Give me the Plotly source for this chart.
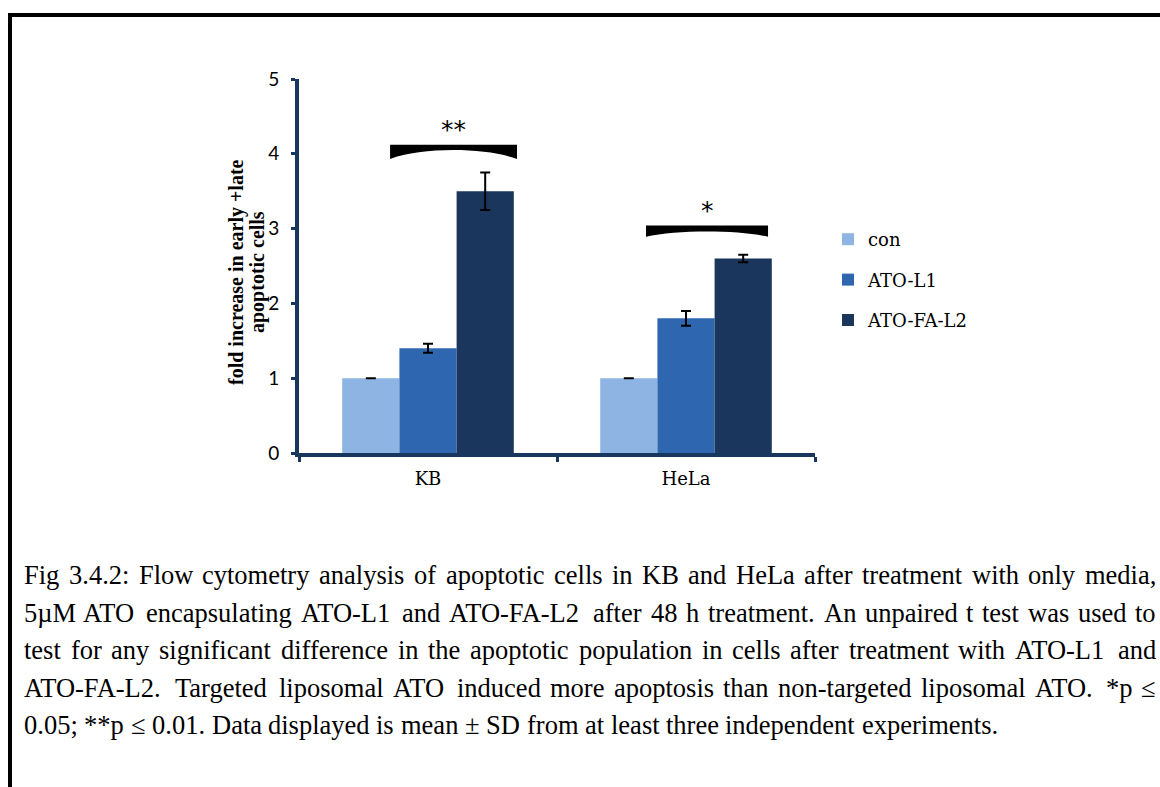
import plotly.graph_objects as go

# ---- data ----
cell_lines = ["KB", "HeLa"]
groups = ["con", "ATO-L1", "ATO-FA-L2"]
means = {
    "con": [1.0, 1.0],
    "ATO-L1": [1.4, 1.8],
    "ATO-FA-L2": [3.5, 2.6],
}
sds = {
    "con": [0.0, 0.0],
    "ATO-L1": [0.06, 0.10],
    "ATO-FA-L2": [0.25, 0.05],
}
colors = {"con": "#8EB4E3", "ATO-L1": "#2E67B0", "ATO-FA-L2": "#1B365D"}
y_ticks = [0, 1, 2, 3, 4, 5]
y_title_lines = ["fold increase in early +late", "apoptotic cells"]

# significance brackets: (x_left, x_right, y_top, y_end_bottom, y_mid_bottom, label)
brackets = [
    (-0.147, 0.345, 4.12, 3.93, 4.05, "**"),
    (0.845, 1.318, 3.04, 2.89, 2.96, "*"),
]

caption_lines = [
    "Fig 3.4.2: Flow cytometry analysis of apoptotic cells in KB and HeLa after treatment with only media,",
    "5µM ATO encapsulating ATO-L1 and ATO-FA-L2 after 48 h treatment. An unpaired t test was used to",
    "test for any significant difference in the apoptotic population in cells after treatment with ATO-L1 and",
    "ATO-FA-L2. Targeted liposomal ATO induced more apoptosis than non-targeted liposomal ATO. *p ≤",
    "0.05; **p ≤ 0.01. Data displayed is mean ± SD from at least three independent experiments.",
]

# ---- layout geometry (pixels) ----
W, H = 1160, 787
PL, PR, PT, PB = 299, 815, 79, 453
NAVY = "#17375E"
CAP_SIZE = 26.5
CAP_LEFT, CAP_RIGHT = 23, 1155
CAP_BASE0, CAP_PITCH = 583, 37.5

# Times advance widths (1/1000 em) used to justify the caption lines
TIMES_W = {
    " ": 250, "!": 333, "*": 500, "+": 564, ",": 250, "-": 333, ".": 250,
    "/": 278, ":": 278, ";": 278, "?": 444, "(": 333, ")": 333,
    "A": 722, "B": 667, "C": 667, "D": 722, "E": 611, "F": 556, "G": 722,
    "H": 722, "I": 333, "J": 389, "K": 722, "L": 611, "M": 889, "N": 722,
    "O": 722, "P": 556, "Q": 722, "R": 667, "S": 556, "T": 611, "U": 722,
    "V": 722, "W": 944, "X": 722, "Y": 722, "Z": 611,
    "a": 444, "b": 500, "c": 444, "d": 500, "e": 444, "f": 333, "g": 500,
    "h": 500, "i": 278, "j": 278, "k": 500, "l": 278, "m": 778, "n": 500,
    "o": 500, "p": 500, "q": 500, "r": 333, "s": 389, "t": 278, "u": 500,
    "v": 500, "w": 722, "x": 500, "y": 500, "z": 444,
    "µ": 500, "≤": 549, "±": 564,
}


def text_width(s, size):
    return sum(TIMES_W.get(c, 500) for c in s) * size / 1000.0


def px_to_paper_x(px):
    return (px - PL) / (PR - PL)


def px_to_paper_y(py):
    return (PB - py) / (PB - PT)


fig = go.Figure()
for g in groups:
    fig.add_trace(go.Bar(
        name=g, x=cell_lines, y=means[g],
        marker=dict(color=colors[g], line=dict(width=0)),
        error_y=dict(type="data", array=sds[g], visible=True,
                     color="black", thickness=2, width=5),
        legendgroup=g,
    ))

shapes = []
annotations = []
for x0, x1, yt, yb, ym, lab in brackets:
    w = x1 - x0
    yc = (ym - 0.25 * yb) / 0.75
    path = (f"M {x0},{yt} L {x1},{yt} L {x1},{yb} "
            f"C {x1 - 0.25 * w},{yc} {x0 + 0.25 * w},{yc} {x0},{yb} Z")
    shapes.append(dict(type="path", path=path, xref="x", yref="y",
                       fillcolor="black", line=dict(width=0)))
    annotations.append(dict(x=(x0 + x1) / 2, y=yt + 0.2, xref="x", yref="y",
                            text=lab, showarrow=False, xanchor="center",
                            yanchor="middle",
                            font=dict(family="DejaVu Sans", size=25, color="black")))

# outer frame (top and left edges)
shapes.append(dict(type="line", xref="paper", yref="paper",
                   x0=px_to_paper_x(8), x1=px_to_paper_x(1165),
                   y0=px_to_paper_y(15), y1=px_to_paper_y(15),
                   line=dict(color="black", width=4)))
shapes.append(dict(type="line", xref="paper", yref="paper",
                   x0=px_to_paper_x(10), x1=px_to_paper_x(10),
                   y0=px_to_paper_y(13), y1=px_to_paper_y(795),
                   line=dict(color="black", width=4)))

# y-axis title, two rotated lines
for xpx, txt in zip([236, 257], y_title_lines):
    annotations.append(dict(
        x=px_to_paper_x(xpx), y=px_to_paper_y(272), xref="paper", yref="paper",
        xanchor="center", yanchor="middle",
        text=f"<b>{txt}</b>", textangle=-90, showarrow=False,
        font=dict(family="Liberation Serif", size=20, color="black"),
    ))

# caption, justified word by word (last line left-aligned)
for k, line in enumerate(caption_lines):
    words = line.split(" ")
    widths = [text_width(wd, CAP_SIZE) for wd in words]
    space = text_width(" ", CAP_SIZE)
    if k < len(caption_lines) - 1 and len(words) > 1:
        gap = (CAP_RIGHT - CAP_LEFT - sum(widths)) / (len(words) - 1)
    else:
        gap = space
    x = CAP_LEFT
    ymid = CAP_BASE0 + CAP_PITCH * k - 0.3 * CAP_SIZE
    for wd, wwd in zip(words, widths):
        annotations.append(dict(
            x=px_to_paper_x(x), y=px_to_paper_y(ymid),
            xref="paper", yref="paper", xanchor="left", yanchor="middle",
            text=wd, showarrow=False, borderpad=0,
            font=dict(family="Liberation Serif", size=CAP_SIZE, color="black"),
        ))
        x += wwd + gap

fig.update_layout(
    width=W, height=H,
    margin=dict(l=PL, r=W - PR, t=PT, b=H - PB, pad=0),
    paper_bgcolor="white", plot_bgcolor="white",
    barmode="group", bargap=0.335, bargroupgap=0,
    showlegend=True,
    legend=dict(x=px_to_paper_x(828), y=px_to_paper_y(221),
                xanchor="left", yanchor="top",
                font=dict(family="DejaVu Serif", size=18, color="black"),
                tracegroupgap=14, itemclick=False),
    xaxis=dict(
        type="category", range=[-0.5, 1.5],
        showline=True, linecolor=NAVY, linewidth=4,
        ticks="outside", tickson="boundaries", ticklen=5, tickwidth=3,
        tickcolor=NAVY, showgrid=False, ticklabelstandoff=6,
        tickfont=dict(family="DejaVu Serif", size=18, color="black"),
    ),
    yaxis=dict(
        range=[0, 5], tickvals=y_ticks,
        showline=True, linecolor=NAVY, linewidth=4,
        ticks="outside", ticklen=4, tickwidth=3, tickcolor=NAVY,
        showgrid=False, zeroline=False, ticklabelstandoff=8,
        tickfont=dict(family="Lato", size=19, color="black"),
    ),
    shapes=shapes,
    annotations=annotations,
)

fig.write_html("out.html")
